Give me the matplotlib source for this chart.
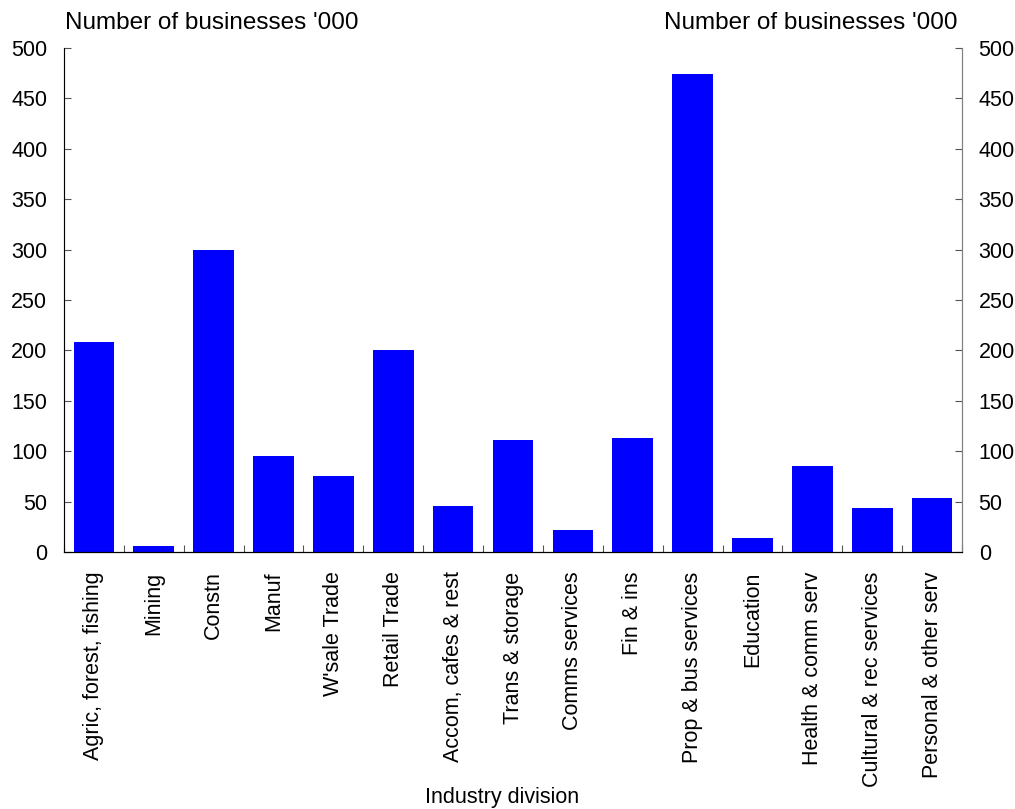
import matplotlib
matplotlib.use("Agg")
import matplotlib.pyplot as plt
import numpy as np

categories = ["Agric, forest, fishing", "Mining", "Constn", "Manuf", "W'sale Trade",
              "Retail Trade", "Accom, cafes & rest", "Trans & storage", "Comms services",
              "Fin & ins", "Prop & bus services", "Education", "Health & comm serv",
              "Cultural & rec services", "Personal & other serv"]
values = [208, 6, 300, 95, 75, 200, 46, 111, 22, 113, 474, 14, 85, 44, 54]
yticks = [0, 50, 100, 150, 200, 250, 300, 350, 400, 450, 500]

plt.rcParams['font.family'] = ['Liberation Sans', 'DejaVu Sans']

fig = plt.figure(figsize=(10.15, 8.09), dpi=100)
ax = fig.add_axes([64/1015, 1-552/809, (962-64)/1015, (552-48)/809])

x = np.arange(len(categories))
ax.bar(x, values, width=0.68, color='#0000FF', zorder=2)
ax.set_xlim(-0.5, len(categories)-0.5)
ax.set_ylim(0, 500)

ax.set_xticks(np.arange(len(categories)+1) - 0.5, minor=False)
ax.set_xticklabels([])
ax.set_xticks(x, minor=True)
ax.set_xticklabels(categories, minor=True, rotation=90, fontsize=15.5, va='top', ha='center')
ax.tick_params(axis='x', which='minor', length=0, pad=14)
ax.tick_params(axis='x', which='major', direction='in', length=5, color='#555555')

ax.set_yticks(yticks)
ax.tick_params(axis='y', direction='in', length=5, labelsize=15.5, color='#555555', pad=12)
for s in ['top']:
    ax.spines[s].set_visible(False)
for s in ['left', 'right', 'bottom']:
    ax.spines[s].set_color('#808080')
ax.spines['bottom'].set_color('black')

ax2 = ax.twinx()
ax2.set_ylim(0, 500)
ax2.set_yticks(yticks)
ax2.tick_params(axis='y', direction='in', length=5, labelsize=15.5, color='#555555', pad=12)
ax2.spines['top'].set_visible(False)
ax2.spines['right'].set_color('#808080')

fig.text(65/1015, 1-23/809, "Number of businesses '000", fontsize=17.5, ha='left', va='center')
fig.text(957/1015, 1-23/809, "Number of businesses '000", fontsize=17.5, ha='right', va='center')
fig.text(502/1015, 1-797/809, "Industry division", fontsize=15.5, ha='center', va='center')

fig.savefig("out.png", dpi=100)
